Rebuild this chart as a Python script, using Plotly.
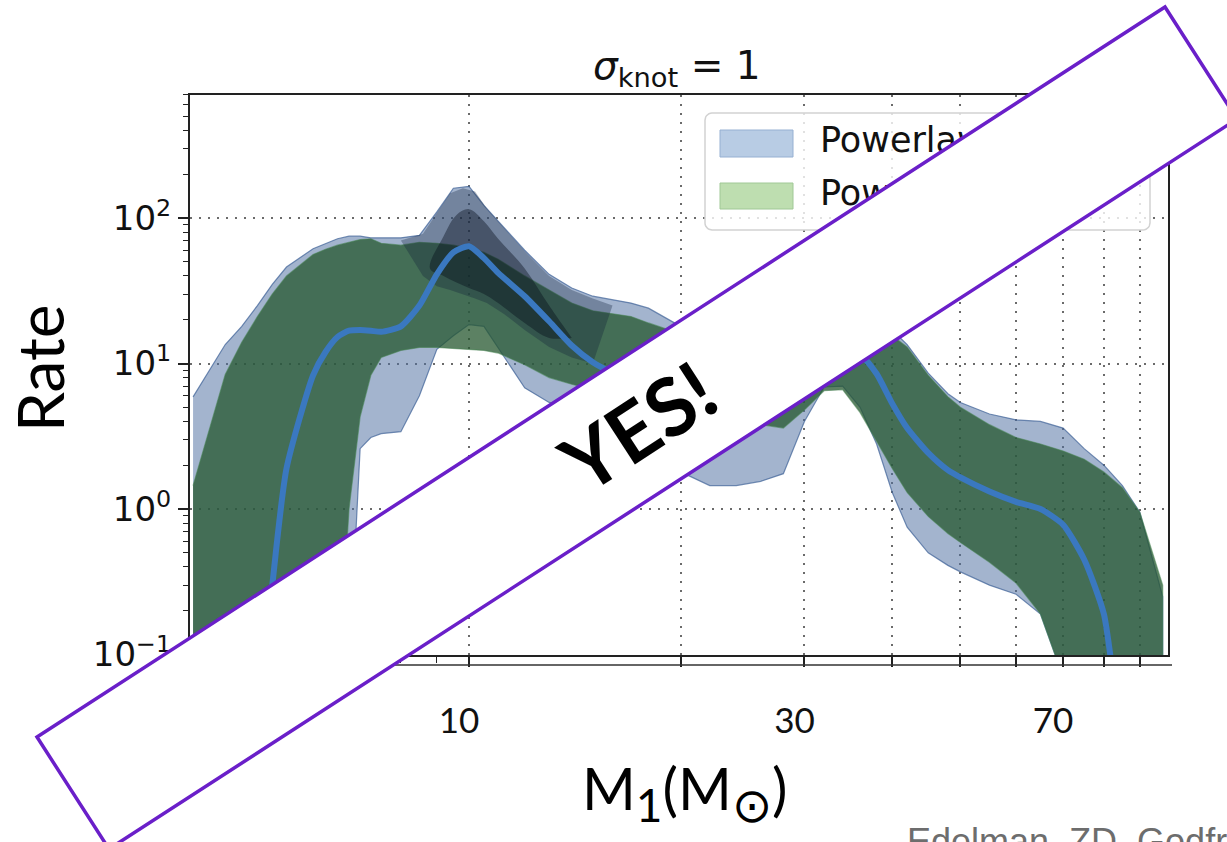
import numpy as np
import plotly.graph_objects as go

W, H = 1227, 842

# ---------------- data ----------------
mass = [4.05, 4.5, 4.75, 5.0, 5.25, 5.5, 6.0, 6.25, 6.5, 6.75, 7.0, 7.25, 7.5, 8.0, 8.5,
        9.0, 9.5, 10.0, 10.5, 11.0, 12.0, 13.0, 14.0, 15.0, 16.0, 17.0, 18.0, 20.0, 22.0,
        24.0, 26.0, 28.0, 30.0, 32.0, 34.0, 36.0, 38.0, 40.0, 42.0, 45.0, 48.0, 50.0, 55.0,
        60.0, 65.0, 70.0, 75.0, 80.0, 85.0, 90.0, 97.0]

# Powerlaw+Spline 90% band
spline_hi = [5.9, 13.5, 18, 25, 35, 46, 61.5, 67, 72, 75, 75, 73, 73, 73, 76,
             110, 160, 165, 122, 95, 60, 41, 33, 29, 27.3, 26, 24, 18, 15,
             13, 12, 13, 14, 16, 18, 19, 19, 17, 13.5, 8.6, 6.2, 5.4, 4.5,
             4.1, 4.0, 3.6, 2.6, 2.0, 1.45, 0.95, 0.25]
spline_lo = [0.05, 0.05, 0.05, 0.05, 0.05, 0.05, 0.05, 0.05, 0.05, 0.08, 2.6, 3.1, 3.3, 3.4, 6.0,
             12.5, 15.5, 18.5, 18, 13, 6.8, 5.4, 5.0, 4.4, 3.8, 3.0, 2.5, 1.8, 1.45,
             1.45, 1.55, 1.75, 4.0, 6.9, 7.0, 5.0, 2.8, 1.3, 0.75, 0.5, 0.41, 0.37, 0.30,
             0.26, 0.19, 0.07, 0.05, 0.05, 0.05, 0.05, 0.05]

# Powerlaw+Peak 90% band
peak_hi = [1.45, 8.4, 14, 21, 30, 40, 56, 61, 65, 68, 71, 72, 67, 65, 68,
           67, 65, 62, 58, 52, 40, 32, 26, 23, 22, 21, 19, 16, 13.5,
           12, 11.5, 12, 13, 14.5, 16, 17, 17, 15.5, 13, 8.3, 5.9, 5.0, 3.8,
           3.1, 2.8, 2.5, 2.2, 1.8, 1.4, 0.95, 0.3]
peak_lo = [0.05, 0.05, 0.05, 0.05, 0.05, 0.05, 0.05, 0.05, 0.05, 1.0, 4.3, 8.3, 11, 12.3, 12.9,
           12.9, 12.8, 12.5, 12.3, 11.8, 9.8, 8.0, 7.2, 6.6, 6.2, 5.8, 5.5, 5.0, 4.5,
           4.1, 3.8, 3.6, 4.8, 6.5, 6.6, 4.6, 2.9, 1.9, 1.3, 0.89, 0.68, 0.59, 0.43,
           0.31, 0.19, 0.07, 0.05, 0.05, 0.05, 0.05, 0.05]

# median of the Powerlaw+Spline rate
median = [0.02, 0.02, 0.02, 0.03, 0.3, 1.9, 8.3, 12, 15.2, 16.8, 17, 16.8, 16.5, 18, 25,
          41, 58, 64, 53, 42, 29, 19.5, 13.3, 10.2, 8.6, 7.5, 6.8, 6.0, 5.6,
          5.5, 5.8, 6.5, 7.8, 9.5, 11.2, 11.5, 8.5, 5.3, 3.6, 2.43, 1.85, 1.65, 1.32,
          1.12, 1.0, 0.78, 0.45, 0.19, 0.03, 0.02, 0.02]

# dense region of posterior draws around the 10 Msun peak
dense_mass = [8.0, 8.6, 9.0, 9.4, 9.8, 10.2, 10.6, 11.2, 12.0, 13.0, 14.0, 15.0, 16.0]
dense_hi = [70, 78, 108, 148, 160, 152, 116, 86, 59, 40, 32, 28, 25]
dense_lo = [70, 40, 34, 32, 30, 28, 26, 22, 17, 13, 11, 10, 25]

core_mass = [8.8, 9.2, 9.6, 10.0, 10.5, 11.0, 12.0, 13.0, 14.0]
core_hi = [45, 75, 105, 115, 95, 72, 45, 25, 15]
core_lo = [45, 40, 36, 33, 30, 26, 19, 15, 15]

legend_labels = ["Powerlaw+Spline", "Powerlaw+Peak"]

x_ticks = [10, 20, 30, 40, 50, 60, 70, 80, 90]
x_ticktext = ["10", "", "30", "", "", "", "70", "", ""]
x_minor = [5, 6, 7, 8, 9]
y_ticks = [0.1, 1, 10, 100]
y_ticktext = ["10<sup>−1</sup>", "10<sup>0</sup>", "10<sup>1</sup>", "10<sup>2</sup>"]
y_minor = [m * d for d in (0.1, 1, 10, 100) for m in range(2, 10)]

# ---------------- layout helpers (pixel -> paper) ----------------
def px(x):
    return x / W


def py(y):
    return 1 - y / H


PLOT_L, PLOT_R, PLOT_T, PLOT_B = 190, 1168, 95, 655


def band(x, lo, hi, fill, line, shape="linear"):
    return go.Scatter(
        x=list(x) + list(x[::-1]), y=list(hi) + list(lo[::-1]),
        fill="toself", fillcolor=fill, mode="lines",
        line=dict(color=line, width=1.2, shape=shape), hoverinfo="skip", showlegend=False,
    )


fig = go.Figure()

fig.add_trace(band(mass, spline_lo, spline_hi, "rgba(78,112,162,0.52)", "rgba(60,95,150,0.7)"))
fig.add_trace(band(mass, peak_lo, peak_hi, "rgba(35,85,45,0.74)", "rgba(70,130,80,0.55)"))
fig.add_trace(band(dense_mass, dense_lo, dense_hi, "rgba(15,30,55,0.32)", "rgba(0,0,0,0)"))
fig.add_trace(band(core_mass, core_lo, core_hi, "rgba(5,12,25,0.40)", "rgba(0,0,0,0)", "spline"))
fig.add_trace(go.Scatter(
    x=mass, y=median, mode="lines", line=dict(color="rgb(58,120,192)", width=6, shape="spline", smoothing=0.6),
    hoverinfo="skip", showlegend=False,
))

# ---------------- legend (drawn on a full-figure pixel overlay) ----------------
def rounded_rect(x0, y0, x1, y1, r, n=8):
    pts = []
    corners = [(x1 - r, y0 + r, -90, 0), (x1 - r, y1 - r, 0, 90),
               (x0 + r, y1 - r, 90, 180), (x0 + r, y0 + r, 180, 270)]
    for cx, cy, a0, a1 in corners:
        for a in np.linspace(np.radians(a0), np.radians(a1), n):
            pts.append((cx + r * np.cos(a), cy + r * np.sin(a)))
    pts.append(pts[0])
    xs, ys = zip(*pts)
    return list(xs), list(ys)


bx, by = rounded_rect(705, 113, 1150, 230, 7)
fig.add_trace(go.Scatter(x=bx, y=by, xaxis="x2", yaxis="y2", fill="toself",
                         fillcolor="rgba(255,255,255,0.8)", mode="lines",
                         line=dict(color="#d2d2d2", width=1.5), hoverinfo="skip", showlegend=False))

patch_styles = [("rgb(184,204,228)", "rgb(150,176,210)", 130, 157),
                ("rgb(190,222,176)", "rgb(160,200,150)", 183, 209)]
for (fc, lc, y0, y1), label in zip(patch_styles, legend_labels):
    fig.add_trace(go.Scatter(x=[720, 793, 793, 720, 720], y=[y0, y0, y1, y1, y0],
                             xaxis="x2", yaxis="y2", fill="toself", fillcolor=fc, mode="lines",
                             line=dict(color=lc, width=1), hoverinfo="skip", showlegend=False))
    fig.add_trace(go.Scatter(x=[820], y=[(y0 + y1) / 2], xaxis="x2", yaxis="y2", mode="text",
                             text=[label], textposition="middle right",
                             textfont=dict(family="DejaVu Sans", size=35, color="#111"),
                             hoverinfo="skip", showlegend=False))

fig.update_layout(
    width=W, height=H,
    margin=dict(l=0, r=0, t=0, b=0, autoexpand=False),
    paper_bgcolor="white", plot_bgcolor="rgba(0,0,0,0)",
    showlegend=False,
    xaxis=dict(
        type="log", domain=[px(PLOT_L), px(PLOT_R)], range=[0.6031, 1.9943],
        tickvals=x_ticks, ticktext=x_ticktext, automargin=False,
        ticks="outside", ticklen=10, tickwidth=1.5, tickcolor="#222",
        tickfont=dict(family="Lato", size=35, color="#111"),
        ticklabelstandoff=24, ticklabelshift=-10,
        showgrid=True, gridcolor="rgba(70,70,70,0.8)", gridwidth=2, griddash="2px,7px",
        minor=dict(tickvals=x_minor, ticks="outside", ticklen=6, tickwidth=1.2, tickcolor="#222", showgrid=False),
        showline=True, linecolor="#222", linewidth=2, mirror=True, zeroline=False,
        anchor="y",
    ),
    yaxis=dict(
        type="log", domain=[py(PLOT_B), py(PLOT_T)], range=[-1.003, 2.845],
        tickvals=y_ticks, ticktext=y_ticktext, automargin=False,
        ticks="outside", ticklen=10, tickwidth=1.5, tickcolor="#222",
        tickfont=dict(family="DejaVu Sans", size=34, color="#111"),
        showgrid=True, gridcolor="rgba(70,70,70,0.8)", gridwidth=2, griddash="2px,7px",
        minor=dict(tickvals=y_minor, ticks="outside", ticklen=5, tickwidth=1.2, tickcolor="#222", showgrid=False),
        showline=True, linecolor="#222", linewidth=2, mirror=True, zeroline=False,
        anchor="x",
    ),
    xaxis2=dict(domain=[0, 1], range=[0, W], visible=False, anchor="y2", fixedrange=True, automargin=False),
    yaxis2=dict(domain=[0, 1], range=[H, 0], visible=False, anchor="x2", fixedrange=True, automargin=False),
)

# frame edge of the panel below
fig.add_shape(type="line", xref="paper", yref="paper",
              x0=px(PLOT_L), x1=px(1172), y0=py(665), y1=py(665),
              line=dict(color="#333", width=1.5), layer="above")

# "YES!" banner
corners = [(37, 737), (1165, 7), (1237, 119), (109, 849)]
path = "M " + " L ".join(f"{px(x):.5f},{py(y):.5f}" for x, y in corners) + " Z"
fig.add_shape(type="path", path=path, xref="paper", yref="paper",
              fillcolor="white", line=dict(color="#6a1fc9", width=3.5), layer="above")

annotations = [
    dict(text="<i>σ</i><sub>knot</sub> = 1", x=px(677), y=py(68),
         font=dict(family="DejaVu Sans", size=39, color="#111")),
    dict(text="Rate", x=px(39), y=py(368), textangle=-90,
         font=dict(family="Lato", size=64, color="#000")),
    dict(text="M<sub><span style='font-size:46px'>1</span></sub>(M<sub><span style='font-size:48px'>⊙</span></sub>)",
         x=px(684), y=py(792),
         font=dict(family="Lato", size=58, color="#000")),
    dict(text="Edelman, ZD, Godfrey, Farr 2022", x=px(905), y=py(841), xanchor="left",
         font=dict(family="Liberation Sans", size=36, color="#6d6d6d")),
    dict(text="<b>YES!</b>", x=px(637), y=py(426), textangle=-33,
         font=dict(family="Lato", size=80, color="#000")),
]
for a in annotations:
    a.setdefault("xanchor", "center")
    fig.add_annotation(xref="paper", yref="paper", showarrow=False, yanchor="middle", **a)

fig.write_html("out.html")
